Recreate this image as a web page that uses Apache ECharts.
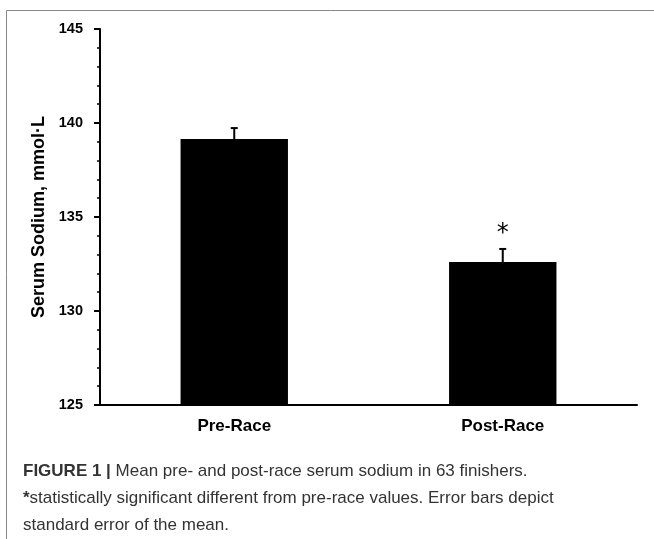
<!DOCTYPE html>
<html>
<head>
<meta charset="utf-8">
<script src="https://cdn.jsdelivr.net/npm/echarts@6/dist/echarts.min.js"></script>
<style>
  html, body { margin: 0; padding: 0; background: #fff; }
  #main { width: 654px; height: 539px; }
</style>
</head>
<body>
<div id="main"></div>
<script>
var categories = ['Pre-Race', 'Post-Race'];
var meanValues = [139.15, 132.6];
var seValues = [0.58, 0.7];
var sigMarks = ['', '*'];
var yTicks = [125, 130, 135, 140, 145];

var myChart = echarts.init(document.getElementById('main'));

var errData = categories.map(function (c, i) {
    return [i, meanValues[i], meanValues[i] + seValues[i], sigMarks[i]];
});

var option = {
    animation: false,
    backgroundColor: '#fff',
    grid: { left: 100, right: 17, top: 29, bottom: 134 },
    xAxis: {
        type: 'category',
        data: categories,
        axisLine: { lineStyle: { color: '#000', width: 2 } },
        axisTick: { show: false },
        axisLabel: {
            color: '#000', fontWeight: 'bold', fontSize: 17,
            fontFamily: 'Liberation Sans, Arial', margin: 13
        }
    },
    yAxis: {
        type: 'value',
        min: yTicks[0],
        max: yTicks[yTicks.length - 1],
        interval: 5,
        name: 'Serum Sodium, mmol\u00b7L',
        nameLocation: 'middle',
        nameGap: 50,
        nameTextStyle: { color: '#000', fontWeight: 'bold', fontSize: 18, fontFamily: 'Liberation Sans, Arial' },
        axisLine: { show: true, lineStyle: { color: '#000', width: 2 } },
        axisTick: { show: true, length: 6, lineStyle: { color: '#000', width: 2 } },
        minorTick: { show: true, splitNumber: 5, length: 3, lineStyle: { color: '#000', width: 1.5 } },
        splitLine: { show: false },
        axisLabel: {
            color: '#000', fontWeight: 'bold', fontSize: 14.5,
            fontFamily: 'Liberation Sans, Arial', margin: 17
        }
    },
    series: [
        {
            type: 'bar',
            data: meanValues,
            barWidth: '40%',
            itemStyle: { color: '#000' }
        },
        {
            type: 'custom',
            data: errData,
            z: 5,
            renderItem: function (params, api) {
                var x = api.value(0);
                var base = api.coord([x, api.value(1)]);
                var top = api.coord([x, api.value(2)]);
                var children = [
                    { type: 'line', shape: { x1: base[0], y1: base[1], x2: top[0], y2: top[1] }, style: { stroke: '#000', lineWidth: 2 } },
                    { type: 'line', shape: { x1: top[0] - 3.5, y1: top[1], x2: top[0] + 3.5, y2: top[1] }, style: { stroke: '#000', lineWidth: 2 } }
                ];
                var mark = errData[params.dataIndex][3];
                if (mark) {
                    children.push({
                        type: 'text',
                        style: {
                            text: mark, x: top[0], y: top[1] - 15,
                            textAlign: 'center', textVerticalAlign: 'middle',
                            font: '24px "DejaVu Sans"', fill: '#000'
                        }
                    });
                }
                return { type: 'group', children: children };
            }
        }
    ],
    graphic: [
        {
            type: 'polyline',
            shape: { points: [[654, 10.5], [6.5, 10.5], [6.5, 539]] },
            style: { stroke: '#888', lineWidth: 1, fill: null }
        },
        {
            type: 'text',
            left: 23, top: 458,
            style: {
                text: '{b|FIGURE 1 |} Mean pre- and post-race serum sodium in 63 finishers.\n{b|*}statistically significant different from pre-race values. Error bars depict\nstandard error of the mean.',
                font: '17px "Liberation Sans", Arial',
                fill: '#333',
                lineHeight: 27,
                rich: {
                    b: { fontWeight: 'bold', fontSize: 17, fill: '#333', lineHeight: 27 }
                }
            }
        }
    ]
};

myChart.setOption(option);
</script>
</body>
</html>
